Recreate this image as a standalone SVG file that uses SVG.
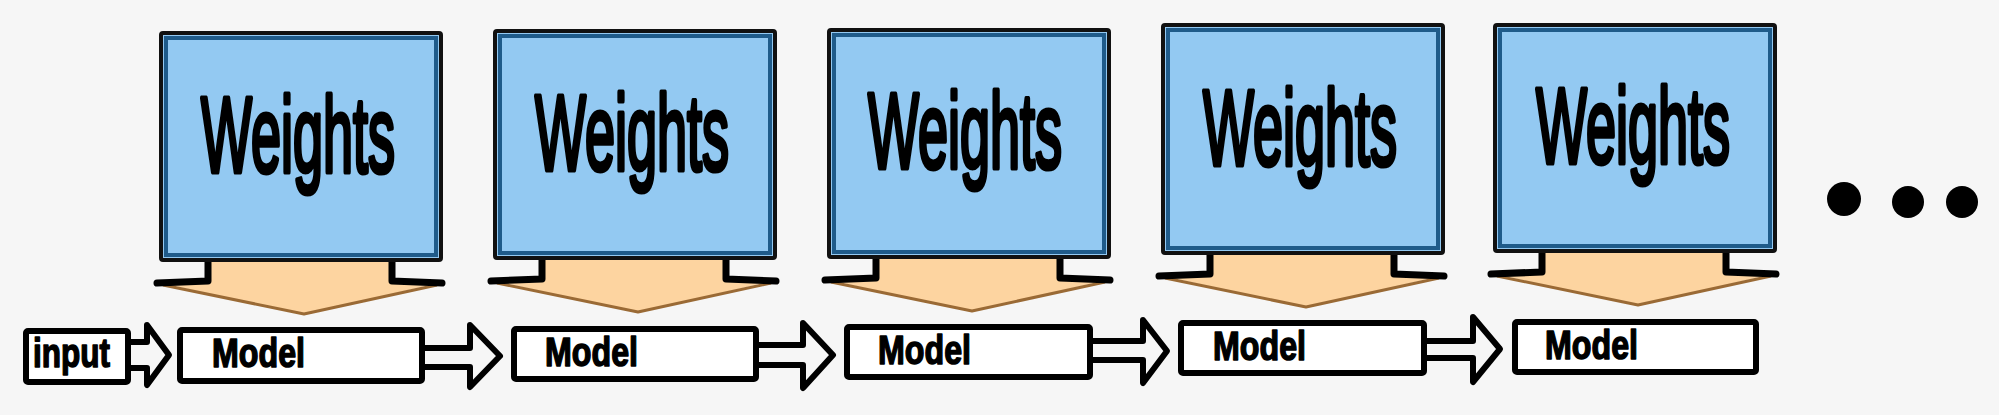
<svg xmlns="http://www.w3.org/2000/svg" xmlns:xlink="http://www.w3.org/1999/xlink" width="1999" height="415" viewBox="0 0 1999 415">
<style>
.wbox{fill:#93c9f2;stroke:#111;stroke-width:4}
.winner{fill:none;stroke:#1f5b8a;stroke-width:4}
.wtext{font-family:"Liberation Sans",Arial,sans-serif;font-size:54px;fill:#000;stroke:#000;stroke-width:4;stroke-linejoin:round;vector-effect:non-scaling-stroke}
.mbox{fill:#fff;stroke:#000;stroke-width:6;stroke-linejoin:round}
.mtext{font-family:"Liberation Sans",Arial,sans-serif;font-weight:bold;font-size:40px;fill:#000;stroke:#000;stroke-width:1.5;stroke-linejoin:round}
.conn{fill:none;stroke:#000;stroke-width:6;stroke-linejoin:round;stroke-linecap:round}
.ofill{fill:#fdd4a0}
.obrown{fill:none;stroke:#9a6a35;stroke-width:3;stroke-linejoin:round}
.oblack{fill:none;stroke:#000;stroke-width:7;stroke-linejoin:round;stroke-linecap:round}
.dot{fill:#000}
</style>
<defs>
<g id="orange">
<path class="ofill" d="M49,-2 L233,-2 L233,20 L283,20 L145,53 L-2,20 L49,20 Z"/>
<path class="obrown" d="M4,23 L145,52 L278,23"/>
<path class="oblack" d="M49,0 L49,19 L-2,21 M233,0 L233,19 L283,21"/>
</g>
</defs>
<rect x="0" y="0" width="1999" height="415" fill="#f6f6f6"/>

<g id="connectors">
<path class="conn" d="M131,342 L147,342 L147,325 L169,355 L147,385 L147,368 L131,368"/>
<path class="conn" d="M425,348 L470,348 L470,325 L500,356 L470,387 L470,367 L425,367"/>
<path class="conn" d="M759,345 L803,345 L803,323 L833,355 L803,388 L803,365 L759,365"/>
<path class="conn" d="M1093,341 L1143,341 L1143,320 L1167,351 L1143,383 L1143,360 L1093,360"/>
<path class="conn" d="M1427,341 L1473,341 L1473,317 L1500,349 L1473,382 L1473,358 L1427,358"/>
<use xlink:href="#orange" transform="translate(159,262)"/>
<use xlink:href="#orange" transform="translate(493,260)"/>
<use xlink:href="#orange" transform="translate(827,259)"/>
<use xlink:href="#orange" transform="translate(1161,255)"/>
<use xlink:href="#orange" transform="translate(1493,253)"/>
</g>

<g id="input">
<rect class="mbox" x="26" y="331" width="102" height="51" rx="2"/>
<text class="mtext" x="33" y="367" font-size="44" textLength="77" lengthAdjust="spacingAndGlyphs">input</text>
</g>

<g id="weights1">
<rect class="wbox" x="161" y="33" width="280" height="227" rx="2"/>
<rect class="winner" x="166" y="38" width="270" height="217"/>
<text class="wtext" transform="translate(298,172) scale(1,2)" text-anchor="middle">Weights</text>
</g>
<g id="weights2">
<rect class="wbox" x="495" y="31" width="280" height="227" rx="2"/>
<rect class="winner" x="500" y="36" width="270" height="217"/>
<text class="wtext" transform="translate(632,170) scale(1,2)" text-anchor="middle">Weights</text>
</g>
<g id="weights3">
<rect class="wbox" x="829" y="30" width="280" height="227" rx="2"/>
<rect class="winner" x="834" y="35" width="270" height="217"/>
<text class="wtext" transform="translate(965,168) scale(1,2)" text-anchor="middle">Weights</text>
</g>
<g id="weights4">
<rect class="wbox" x="1163" y="25" width="280" height="228" rx="2"/>
<rect class="winner" x="1168" y="30" width="270" height="218"/>
<text class="wtext" transform="translate(1300,165) scale(1,2)" text-anchor="middle">Weights</text>
</g>
<g id="weights5">
<rect class="wbox" x="1495" y="25" width="280" height="226" rx="2"/>
<rect class="winner" x="1500" y="30" width="270" height="216"/>
<text class="wtext" transform="translate(1633,163) scale(1,2)" text-anchor="middle">Weights</text>
</g>

<g id="model1">
<rect class="mbox" x="180" y="330" width="242" height="51" rx="2"/>
<text class="mtext" x="212" y="367" textLength="93" lengthAdjust="spacingAndGlyphs">Model</text>
</g>
<g id="model2">
<rect class="mbox" x="514" y="329" width="242" height="50" rx="2"/>
<text class="mtext" x="545" y="366" textLength="93" lengthAdjust="spacingAndGlyphs">Model</text>
</g>
<g id="model3">
<rect class="mbox" x="847" y="327" width="243" height="50" rx="2"/>
<text class="mtext" x="878" y="364" textLength="93" lengthAdjust="spacingAndGlyphs">Model</text>
</g>
<g id="model4">
<rect class="mbox" x="1181" y="323" width="243" height="50" rx="2"/>
<text class="mtext" x="1213" y="360" textLength="93" lengthAdjust="spacingAndGlyphs">Model</text>
</g>
<g id="model5">
<rect class="mbox" x="1515" y="322" width="241" height="50" rx="2"/>
<text class="mtext" x="1545" y="359" textLength="93" lengthAdjust="spacingAndGlyphs">Model</text>
</g>

<g id="ellipsis">
<circle class="dot" cx="1844" cy="199" r="17"/>
<circle class="dot" cx="1908" cy="202" r="16"/>
<circle class="dot" cx="1962" cy="202" r="16"/>
</g>
</svg>
